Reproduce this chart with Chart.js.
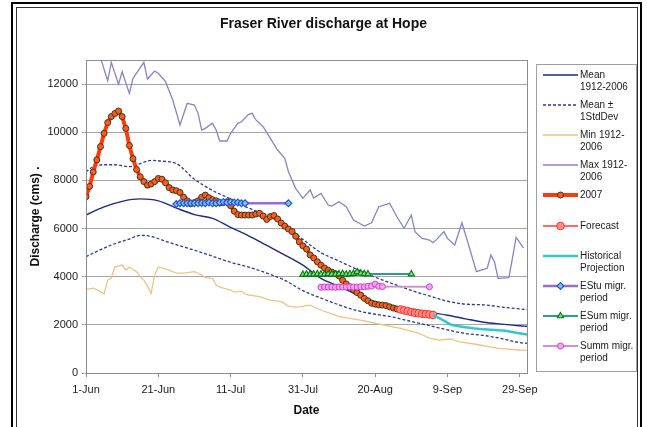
<!DOCTYPE html>
<html><head><meta charset="utf-8">
<style>html,body{margin:0;padding:0;background:#fff;overflow:hidden}canvas{display:block}</style>
<script src="https://cdn.jsdelivr.net/npm/chart.js@4.4.1/dist/chart.umd.min.js"></script>
</head><body>
<canvas id="c" width="647" height="427"></canvas>
<script>
const FONT = "'Liberation Sans', Arial, Helvetica, sans-serif";

// ---- axes ----
const xTickDays = [0, 20, 40, 60, 80, 100, 120];            // days after 1-Jun
const xTickLabels = ['1-Jun', '21-Jun', '11-Jul', '31-Jul', '20-Aug', '9-Sep', '29-Sep'];
const yTicks = [0, 2000, 4000, 6000, 8000, 10000, 12000];

// ---- series (day offset from 1-Jun, discharge cms) ----
const meanDays = [0,5,10,15,20,25,30,35,40,45,50,55,60,65,70,75,80,85,90,95,100,105,110,115,120,122];
const meanVals = [6560,6900,7130,7230,7150,6850,6580,6420,6050,5700,5300,4900,4480,3930,3600,3250,2960,2790,2660,2520,2400,2250,2110,2030,1960,1940];

const sdHiDays = [0,2,5,8,12,15,18,21,25,30,35,40,45,50,55,60,65,70,75,80,85,90,95,100,105,110,115,120,122];
const sdHiVals = [8360,8570,8650,8650,8570,8700,8830,8800,8700,8050,7580,7230,6850,6550,6150,5550,5000,4650,4300,3980,3700,3430,3200,2980,2860,2830,2740,2660,2640];

const sdLoDays = [0,3,7,12,15,18,23,30,35,40,45,50,55,60,65,70,75,80,85,90,95,100,105,110,115,120,122];
const sdLoVals = [4830,5050,5316,5565,5720,5670,5420,5100,4850,4600,4400,4150,3850,3420,3110,2830,2590,2440,2320,2140,1970,1790,1640,1560,1430,1260,1230];

const minDays = [0,1,2,4,5,6,7,8,10,11,12,14,15,16,17,18,19,20,22,25,27,30,32,33,35,36,37,40,41,43,44,45,48,51,54,56,58,59,62,65,70,76,81,87,92,95,98,101,103,109,114,120,122];
const minVals = [3490,3490,3520,3380,3280,3860,3945,4410,4485,4280,4400,4210,4000,3860,3630,3310,4070,4400,4320,4150,4150,4210,4070,3970,3930,3650,3570,3447,3360,3400,3280,3240,3170,3030,2960,2780,2740,2750,2820,2616,2340,2200,2035,1855,1660,1453,1370,1412,1300,1163,1025,955,940];

const maxDays = [4,6,7,9,10,12,13,16,17,19,20,22,24,26,28,30,31,32,33,35,36,37,39,40,42,43,45,46,47,49,51,53,55,56,58,60,62,63,65,67,68,70,72,74,77,79,81,84,86,88,90,91,93,95,96,97,99,100,102,104,106,108,110,111,112,113,114,117,119,121];
const maxVals = [13100,12130,12900,11990,12510,11615,12240,12900,12210,12540,12450,12100,11340,10300,11200,11130,10785,10090,10160,10370,10090,9635,9635,9955,10370,10435,10745,10785,10510,10230,9745,9260,8915,8360,7670,7255,7600,7270,7460,6977,6935,7114,6906,6354,6105,6240,6906,7050,6490,6010,6560,5870,5590,5520,5410,5550,5870,5590,5316,6240,5245,4210,4305,4350,4900,4620,3930,3960,5635,5200];

const start2007 = 0;   // daily values from 1-Jun
const vals2007 = [7320,7750,8350,8850,9400,9950,10400,10650,10780,10880,
  10650,10160,9450,8900,8450,8150,7950,7800,7850,7950,
  8080,8050,7900,7700,7600,7570,7500,7300,7150,7030,
  7080,7150,7300,7390,7280,7200,7150,7060,7080,7110,
  6950,6720,6580,6560,6560,6560,6560,6600,6630,6520,
  6380,6500,6540,6400,6230,6100,5980,5880,5680,5450,
  5280,5150,4900,4780,4620,4480,4360,4270,4190,4120,
  4030,3850,3700,3580,3460,3340,3230,3100,3000,2900,
  2860,2830,2820,2800,2750,2700,2660];

const forecastDays = [87,88,89,90,91,92,93,94,95,96];
const forecastVals = [2640,2600,2570,2530,2500,2480,2460,2450,2430,2410];

const projDays = [96,99,101,104,107,110,113,116,119,122];
const projVals = [2410,2175,2000,1925,1855,1812,1785,1757,1675,1600];

const estuDays = [25,26,27,28,29,30,31,32,33,34,35,36,37,38,39,40,41,42,43,44,56];
const estuVals = [7020,7050,7050,7050,7050,7050,7050,7060,7050,7080,7050,7050,7080,7100,7080,7100,7080,7080,7050,7050,7050];

const esumDays = [60,61,62,63,64,65,66,67,68,69,70,71,72,73,74,75,76,77,78,90];
const esumVals = [4090,4100,4100,4100,4110,4100,4100,4110,4100,4100,4110,4120,4100,4110,4130,4200,4140,4120,4110,4110];

const summDays = [65,66,67,68,69,70,71,72,73,74,75,76,77,78,79,80,81,82,95];
const summVals = [3560,3570,3570,3570,3560,3570,3570,3570,3580,3570,3570,3580,3580,3600,3610,3690,3600,3590,3580];

function pts(days, vals) { return days.map((d, i) => ({x: d, y: vals[i]})); }

const base = {fill: false, tension: 0, pointRadius: 0, pointHoverRadius: 0, xAxisID: 'x', yAxisID: 'y'};
const datasets = [
  {...base, label: 'Mean 1912-2006', data: pts(meanDays, meanVals), borderColor: '#1c2a85', borderWidth: 1.4, cubicInterpolationMode: 'monotone'},
  {...base, label: 'Mean ± 1StdDev', data: pts(sdHiDays, sdHiVals), borderColor: '#27399a', borderWidth: 1.3, borderDash: [3, 2], cubicInterpolationMode: 'monotone'},
  {...base, label: 'Mean - 1StdDev', data: pts(sdLoDays, sdLoVals), borderColor: '#27399a', borderWidth: 1.3, borderDash: [3, 2], cubicInterpolationMode: 'monotone'},
  {...base, label: 'Min 1912-2006', data: pts(minDays, minVals), borderColor: '#f0c285', borderWidth: 1.3},
  {...base, label: 'Max 1912-2006', data: pts(maxDays, maxVals), borderColor: '#8585c9', borderWidth: 1.3},
  {...base, label: '2007', data: vals2007.map((v, i) => ({x: start2007 + i, y: v})), borderColor: '#ff3a0a', borderWidth: 4,
    pointRadius: 3, pointStyle: 'circle', pointBackgroundColor: '#ff5a26', pointBorderColor: '#3e3a12', pointBorderWidth: 1},
  {...base, label: 'Forecast', data: pts(forecastDays, forecastVals), borderColor: '#ff3a2a', borderWidth: 1.5,
    pointRadius: 3.8, pointStyle: 'circle', pointBackgroundColor: '#ff8f84', pointBorderColor: '#ff3030', pointBorderWidth: 1},
  {...base, label: 'Historical Projection', data: pts(projDays, projVals), borderColor: '#33c8c8', borderWidth: 2.5},
  {...base, label: 'EStu migr. period', data: pts(estuDays, estuVals), borderColor: '#9a6acc', borderWidth: 2.5,
    pointRadius: 3.4, pointStyle: 'rectRot', pointBackgroundColor: '#8dbbff', pointBorderColor: '#1f58c8', pointBorderWidth: 1.2},
  {...base, label: 'ESum migr. period', data: pts(esumDays, esumVals), borderColor: '#2f9b8c', borderWidth: 2,
    pointRadius: 3.6, pointStyle: 'triangle', pointBackgroundColor: '#86d886', pointBorderColor: '#007a10', pointBorderWidth: 1.1},
  {...base, label: 'Summ migr. period', data: pts(summDays, summVals), borderColor: '#d08fd0', borderWidth: 2,
    pointRadius: 3, pointStyle: 'circle', pointBackgroundColor: '#f3a6f0', pointBorderColor: '#d040cc', pointBorderWidth: 1}
];
datasets.forEach((d, i) => { d.order = datasets.length - i; });

const legendItems = [
  {ds: 0, text: ['Mean', '1912-2006']},
  {ds: 1, text: ['Mean ±', '1StdDev']},
  {ds: 3, text: ['Min 1912-', '2006']},
  {ds: 4, text: ['Max 1912-', '2006']},
  {ds: 5, text: ['2007']},
  {ds: 6, text: ['Forecast']},
  {ds: 7, text: ['Historical', 'Projection']},
  {ds: 8, text: ['EStu migr.', 'period']},
  {ds: 9, text: ['ESum migr.', 'period']},
  {ds: 10, text: ['Summ migr.', 'period']}
];

function marker(ctx, d, x, y) {
  ctx.fillStyle = d.pointBackgroundColor;
  ctx.strokeStyle = d.pointBorderColor;
  ctx.lineWidth = d.pointBorderWidth;
  if (Chart.helpers && Chart.helpers.drawPoint) {
    Chart.helpers.drawPoint(ctx, {pointStyle: d.pointStyle, radius: d.pointRadius, borderWidth: d.pointBorderWidth, rotation: 0}, x, y);
  } else {
    ctx.beginPath(); ctx.arc(x, y, d.pointRadius, 0, Math.PI * 2); ctx.fill(); ctx.stroke();
  }
}

const decor = {
  id: 'decor',
  beforeDraw(chart) {
    const ctx = chart.ctx;
    ctx.save(); ctx.fillStyle = '#fff'; ctx.fillRect(0, 0, chart.width, chart.height); ctx.restore();
  },
  afterDraw(chart) {
    const ctx = chart.ctx, a = chart.chartArea;
    ctx.save();
    // plot frame
    ctx.strokeStyle = '#8c8c8c'; ctx.lineWidth = 1;
    ctx.strokeRect(Math.round(a.left) + 0.5, Math.round(a.top) + 0.5, Math.round(a.right - a.left), Math.round(a.bottom - a.top));
    // legend
    ctx.strokeStyle = '#a0a0a0';
    ctx.strokeRect(536.5, 64.5, 100, 307);
    ctx.font = '10px ' + FONT; ctx.textBaseline = 'middle'; ctx.textAlign = 'left';
    const ds = chart.data.datasets;
    legendItems.forEach((it, k) => {
      const y = Math.round(75 + k * 30.1);
      const d = ds[it.ds];
      ctx.save();
      ctx.strokeStyle = d.borderColor; ctx.lineWidth = d.borderWidth; ctx.setLineDash(d.borderDash || []);
      ctx.beginPath(); ctx.moveTo(543, y); ctx.lineTo(578, y); ctx.stroke();
      ctx.setLineDash([]);
      if (d.pointRadius > 0) marker(ctx, d, 560.5, y);
      ctx.restore();
      ctx.fillStyle = '#1a1a1a';
      it.text.forEach((t, j) => ctx.fillText(t, 580, y + j * 12));
    });
    // outer double frame
    ctx.strokeStyle = '#000'; ctx.lineWidth = 2;
    ctx.strokeRect(12, 3, 629, 600);
    ctx.strokeStyle = '#333'; ctx.lineWidth = 1;
    ctx.strokeRect(16.5, 7.5, 621, 600);
    ctx.restore();
  }
};

new Chart(document.getElementById('c'), {
  type: 'line',
  data: {datasets},
  plugins: [decor],
  options: {
    responsive: false, animation: false, events: [],
    layout: {padding: 0},
    plugins: {
      legend: {display: false},
      tooltip: {enabled: false},
      title: {display: true, text: 'Fraser River discharge at Hope', color: '#111',
        font: {family: FONT, size: 14, weight: 'bold'}, padding: {top: 16, bottom: 27.2}}
    },
    scales: {
      x: {
        type: 'linear', min: 0, max: 122,
        afterBuildTicks: s => { s.ticks = xTickDays.map(v => ({value: v})); },
        afterFit: s => { s.height = 54; },
        ticks: {callback: v => { const i = xTickDays.indexOf(v); return i >= 0 ? xTickLabels[i] : ''; },
          color: '#1a1a1a', font: {family: FONT, size: 11}, padding: 6, maxRotation: 0, autoSkip: false},
        grid: {drawOnChartArea: false, drawTicks: true, tickLength: 4, color: '#8c8c8c'},
        border: {display: true, color: '#8c8c8c'},
        title: {display: true, text: 'Date', color: '#111', font: {family: FONT, size: 12, weight: 'bold'}, padding: {top: 0, bottom: 9}}
      },
      y: {
        type: 'linear', position: 'left', min: 0, max: 13000,
        afterBuildTicks: s => { s.ticks = yTicks.map(v => ({value: v})); },
        afterFit: s => { s.width = 86; },
        ticks: {callback: v => String(v), color: '#1a1a1a', font: {family: FONT, size: 11}, padding: 4},
        grid: {color: '#a6a6a6', lineWidth: 1, drawTicks: true, tickLength: 4},
        border: {display: true, color: '#8c8c8c'},
        title: {display: true, text: 'Discharge (cms) .', color: '#111', font: {family: FONT, size: 12, weight: 'bold'}, padding: {top: 28, bottom: 0}}
      },
      yR: {
        type: 'linear', position: 'right', display: true,
        afterFit: s => { s.width = 120; },
        ticks: {display: false}, grid: {display: false}, border: {display: false}
      }
    }
  }
});
</script>
</body></html>
